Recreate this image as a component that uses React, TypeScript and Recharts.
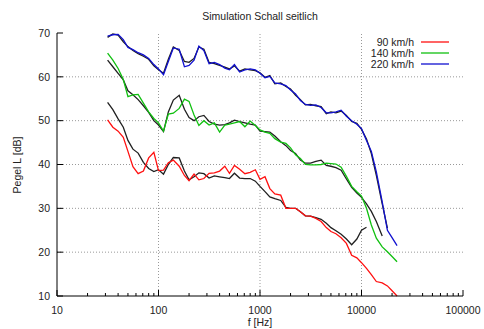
import React from "react";
import {
  LineChart,
  Line,
  XAxis,
  YAxis,
  ReferenceLine,
  Legend,
} from "recharts";

// 1/6 octave band centres [Hz]
const freqs = [
  31.5, 35.5, 40, 45, 50, 56, 63, 71, 80, 90,
  100, 112, 125, 140, 160, 180, 200, 224, 250, 280,
  315, 355, 400, 450, 500, 560, 630, 710, 800, 900,
  1000, 1120, 1250, 1400, 1600, 1800, 2000, 2240, 2500, 2800,
  3150, 3550, 4000, 4500, 5000, 5600, 6300, 7100, 8000, 9000,
  10000, 11200, 12500, 14000, 16000, 18000, 20000, 22400,
];

const red90 = [
  50.2, 48.5, 47.6, 46.2, 43.0, 39.5, 37.9, 38.5, 41.5, 42.8,
  38.6, 38.7, 40.4, 41.0, 39.6, 37.5, 36.3, 37.8, 36.5, 36.8,
  38.0, 38.1, 38.5, 39.6, 38.0, 39.8, 38.9, 37.9, 38.2, 38.8,
  36.6, 37.2, 34.5, 33.3, 33.0, 30.0, 30.0, 30.0, 29.2, 28.3,
  28.2, 27.7, 27.0, 25.6, 24.7, 24.2, 23.3, 22.0, 19.3, 18.7,
  17.6, 16.3, 14.9, 13.3, 13.0, 12.3, 11.2, 10.0,
];
const black90 = [
  54.2, 52.5, 50.4, 48.5, 45.5, 43.5, 42.6, 40.5, 39.1, 38.4,
  38.8, 37.8, 40.0, 41.6, 41.5, 38.5, 36.5, 37.2, 38.1, 37.9,
  36.9, 37.4, 37.2, 37.0, 36.8, 38.0, 36.9, 36.8, 36.8, 36.2,
  35.0, 33.8, 32.6, 32.2, 31.8, 30.2, 30.0, 30.0, 29.2, 28.3,
  28.2, 27.9, 27.5, 26.6, 25.6, 24.9, 24.1, 23.0, 21.7, 23.0,
  25.0, 25.7,
];
const green140 = [
  65.4, 63.8, 61.9, 59.4, 55.5, 55.9, 56.0, 54.0, 52.0, 50.5,
  49.5, 47.6, 51.5, 51.7, 52.8, 54.9, 54.4, 51.3, 48.9, 50.0,
  49.0, 49.5, 47.4, 49.0, 49.2, 49.5, 49.8, 48.6, 49.9, 48.9,
  47.9, 47.4, 47.1, 45.9, 45.1, 44.8, 43.8, 42.2, 41.4, 40.0,
  39.9, 39.9, 40.0, 40.3, 40.2, 40.1, 39.4, 37.3, 35.0, 33.8,
  32.8, 30.0, 26.2, 23.2, 21.2, 20.1, 19.0, 17.8,
];
const black140 = [
  63.8, 62.3, 60.8, 59.3, 56.8, 55.9, 54.8, 53.4, 51.9, 50.0,
  49.0, 47.5, 52.0, 54.7, 55.8, 52.6, 50.7, 50.0, 50.9, 51.2,
  49.8, 49.2, 49.0, 49.1, 49.5, 50.1, 49.8, 49.5, 49.2, 49.0,
  47.6, 47.5, 47.4, 46.5, 45.2, 44.3, 43.2, 42.5, 41.0, 40.3,
  40.3, 40.7, 41.0, 39.8, 39.6, 39.3, 38.7, 36.7, 34.8, 33.5,
  32.5, 31.0, 29.3, 27.0, 23.7,
];
const blue220 = [
  69.3, 69.6, 69.7, 68.5, 66.7, 66.2, 65.5, 65.0, 64.2, 62.8,
  61.8, 60.5, 63.5, 66.6, 66.3, 62.3, 62.6, 63.8, 67.0, 66.0,
  63.0, 63.3, 62.8, 62.0, 61.6, 62.8, 61.1, 61.6, 61.8, 61.6,
  60.8, 59.8, 60.1, 58.6, 58.4, 58.0, 57.0, 56.1, 54.6, 53.7,
  53.5, 53.6, 53.0, 51.8, 51.8, 52.0, 52.4, 51.0, 50.0, 49.2,
  48.2, 45.5, 43.0, 38.3, 31.5, 25.0, 23.3, 21.5,
];
const black220 = [
  69.0, 69.8, 69.5, 68.0, 66.9, 66.0, 65.3, 64.7, 64.0, 62.5,
  61.6, 60.8, 64.0, 66.8, 66.0, 63.5, 63.3, 64.2, 66.8, 66.3,
  63.3, 63.0, 62.6, 62.2, 61.8, 62.5, 61.3, 61.8, 61.6, 61.4,
  60.9, 59.9, 60.3, 58.4, 58.6, 57.8, 57.2, 55.8, 54.8, 53.6,
  53.7, 53.4, 53.2, 51.6, 52.0, 51.8, 52.2, 51.2, 49.8, 49.4,
  48.0, 45.8, 42.5, 37.5, 31.0, 25.5,
];

const seriesNames = ["90 km/h", "140 km/h", "220 km/h"];

const xMajor = [10, 100, 1000, 10000, 100000];
const xMinor = [
  20, 30, 40, 50, 60, 70, 80, 90,
  200, 300, 400, 500, 600, 700, 800, 900,
  2000, 3000, 4000, 5000, 6000, 7000, 8000, 9000,
  20000, 30000, 40000, 50000, 60000, 70000, 80000, 90000,
];
const yTicks = [10, 20, 30, 40, 50, 60, 70];
const gridX = [100, 1000, 10000];
const gridY = [20, 30, 40, 50, 60];

const FONT = "'Liberation Sans', Arial, sans-serif";
const xAll = [...xMajor, ...xMinor].sort((a, b) => a - b);

const toPoints = (vals: number[]) => vals.map((v, i) => ({ f: freqs[i], v }));

const BottomTick = (props: any) => {
  const { x, y, payload } = props;
  const major = xMajor.includes(payload.value);
  return (
    <g>
      <line x1={x} x2={x} y1={y} y2={y - (major ? 6 : 3)} stroke="#000" />
      {major && (
        <text x={x} y={y + 18} textAnchor="middle" fontSize={10.5} fontFamily={FONT} fill="#222">
          {payload.value}
        </text>
      )}
    </g>
  );
};

const TopTick = (props: any) => {
  const { x, y, payload } = props;
  const major = xMajor.includes(payload.value);
  return <line x1={x} x2={x} y1={y} y2={y + (major ? 6 : 3)} stroke="#000" />;
};

const LeftTick = (props: any) => {
  const { x, y, payload } = props;
  return (
    <g>
      <line x1={x} x2={x + 6} y1={y} y2={y} stroke="#000" />
      <text x={x - 7} y={y} dy="0.35em" textAnchor="end" fontSize={10.5} fontFamily={FONT} fill="#222">
        {payload.value}
      </text>
    </g>
  );
};

const RightTick = (props: any) => {
  const { x, y } = props;
  return <line x1={x} x2={x - 6} y1={y} y2={y} stroke="#000" />;
};

const LegendBox = (props: any) => {
  const items = (props.payload || [])
    .filter((p: any) => seriesNames.includes(p.value))
    .sort((a: any, b: any) => seriesNames.indexOf(a.value) - seriesNames.indexOf(b.value));
  return (
    <div style={{ fontFamily: FONT, fontSize: 10.5, color: "#222" }}>
      {items.map((p: any) => (
        <div key={p.value} style={{ display: "flex", alignItems: "center", justifyContent: "flex-end", height: 11.3 }}>
          <span>{p.value}</span>
          <svg width={34} height={6} style={{ marginLeft: 6 }}>
            <line x1={1} x2={29} y1={3} y2={3} stroke={p.color} strokeWidth={1.3} />
          </svg>
        </div>
      ))}
    </div>
  );
};

export default function App() {
  return (
    <div style={{ position: "absolute", left: 0, top: 0, width: 484, height: 329, background: "#fff" }}>
      <div
        style={{
          position: "absolute", left: 57, width: 406, top: 10, textAlign: "center",
          fontFamily: FONT, fontSize: 10.5, color: "#222",
        }}
      >
        Simulation Schall seitlich
      </div>
      <div
        style={{
          position: "absolute", left: 57, width: 406, top: 316, textAlign: "center",
          fontFamily: FONT, fontSize: 10.5, color: "#222",
        }}
      >
        f [Hz]
      </div>
      <div
        style={{
          position: "absolute", left: 17, top: 165, transform: "translate(-50%, -50%) rotate(-90deg)",
          whiteSpace: "nowrap", fontFamily: FONT, fontSize: 10.5, color: "#222",
        }}
      >
        Pegel L [dB]
      </div>
      <LineChart width={484} height={329} margin={{ top: 33, right: 21, bottom: 0, left: 0 }}>
        <XAxis
          xAxisId="b"
          dataKey="f"
          type="number"
          scale="log"
          domain={[10, 100000]}
          ticks={xAll}
          interval={0}
          allowDataOverflow
          height={33}
          tickSize={0}
          tickMargin={0}
          tickLine={false}
          tick={<BottomTick />}
          axisLine={{ stroke: "#000" }}
        />
        <XAxis
          xAxisId="t"
          dataKey="f"
          type="number"
          scale="log"
          domain={[10, 100000]}
          ticks={xAll}
          interval={0}
          allowDataOverflow
          orientation="top"
          height={0}
          tickSize={0}
          tickMargin={0}
          tickLine={false}
          tick={<TopTick />}
          axisLine={{ stroke: "#000" }}
        />
        <YAxis
          yAxisId="l"
          type="number"
          domain={[10, 70]}
          ticks={yTicks}
          interval={0}
          width={57}
          tickSize={0}
          tickMargin={0}
          tickLine={false}
          tick={<LeftTick />}
          axisLine={{ stroke: "#000" }}
        />
        <YAxis
          yAxisId="r"
          type="number"
          orientation="right"
          domain={[10, 70]}
          ticks={yTicks}
          interval={0}
          width={0}
          tickSize={0}
          tickMargin={0}
          tickLine={false}
          tick={<RightTick />}
          axisLine={{ stroke: "#000" }}
        />
        {gridX.map((g) => (
          <ReferenceLine key={`gx${g}`} xAxisId="b" yAxisId="l" x={g} stroke="#999" strokeDasharray="1 2" />
        ))}
        {gridY.map((g) => (
          <ReferenceLine key={`gy${g}`} xAxisId="b" yAxisId="l" y={g} stroke="#999" strokeDasharray="1 2" />
        ))}
        <Legend
          layout="horizontal"
          align="center"
          verticalAlign="middle"
          content={<LegendBox />}
          wrapperStyle={{ position: "absolute", top: 36, left: 324, width: 130, height: 36 }}
        />
        <Line xAxisId="b" yAxisId="l" data={toPoints(black90)} dataKey="v" stroke="#202020" strokeWidth={1.3} dot={false} legendType="none" isAnimationActive={false} />
        <Line xAxisId="b" yAxisId="l" data={toPoints(black140)} dataKey="v" stroke="#202020" strokeWidth={1.3} dot={false} legendType="none" isAnimationActive={false} />
        <Line xAxisId="b" yAxisId="l" data={toPoints(black220)} dataKey="v" stroke="#202020" strokeWidth={1.3} dot={false} legendType="none" isAnimationActive={false} />
        <Line xAxisId="b" yAxisId="l" data={toPoints(red90)} dataKey="v" name={seriesNames[0]} stroke="#ff1010" strokeWidth={1.3} dot={false} isAnimationActive={false} />
        <Line xAxisId="b" yAxisId="l" data={toPoints(green140)} dataKey="v" name={seriesNames[1]} stroke="#10c010" strokeWidth={1.3} dot={false} isAnimationActive={false} />
        <Line xAxisId="b" yAxisId="l" data={toPoints(blue220)} dataKey="v" name={seriesNames[2]} stroke="#1010d0" strokeWidth={1.3} dot={false} isAnimationActive={false} />
      </LineChart>
    </div>
  );
}
